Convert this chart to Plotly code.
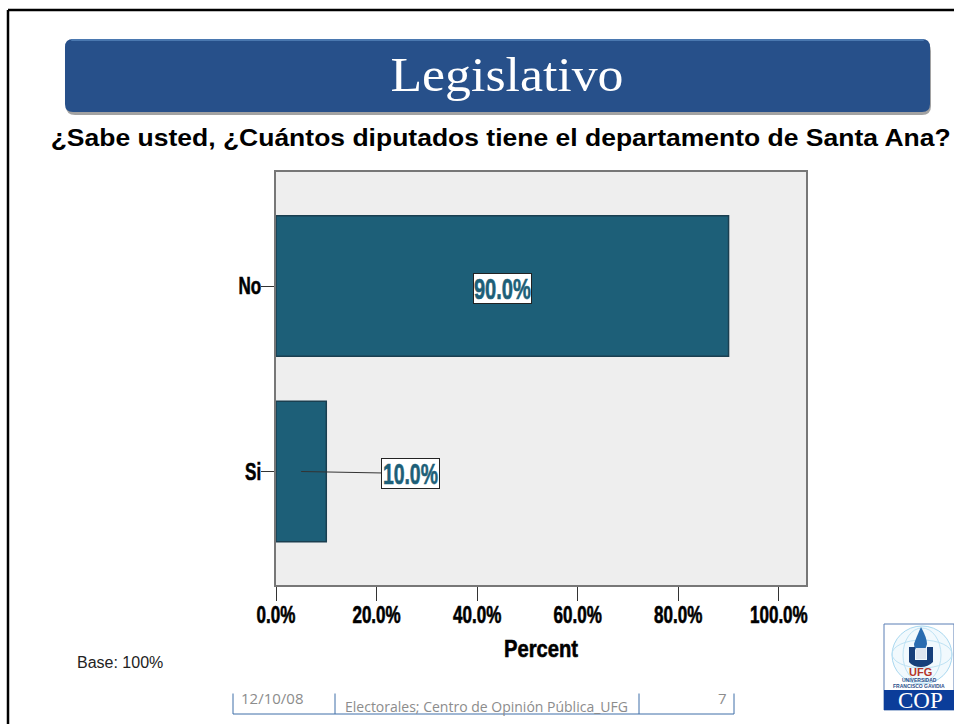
import json
import plotly.graph_objects as go

# values
categories = ["Si", "No"]
percent = [10.0, 90.0]
bar_labels = ["10.0%", "90.0%"]
x_ticks = [0, 20, 40, 60, 80, 100]
x_tick_labels = ["0.0%", "20.0%", "40.0%", "60.0%", "80.0%", "100.0%"]

W, H = 954, 724
BAR = "#1d5f78"
SANS = "Liberation Sans"
FOOT = "#8c8c8c"
FOOT_LINE = "#3f6ea8"


def px(x):
    return x / W


def py(y):
    return 1 - y / H


def rounded(x0, y0, x1, y1, r):
    return (f"M {x0+r} {y0} L {x1-r} {y0} Q {x1} {y0} {x1} {y0+r} L {x1} {y1-r} Q {x1} {y1} {x1-r} {y1} "
            f"L {x0+r} {y1} Q {x0} {y1} {x0} {y1-r} L {x0} {y0+r} Q {x0} {y0} {x0+r} {y0} Z")


def box(x0, y0, x1, y1, fill, line=None, width=0):
    return dict(type="rect", xref="paper", yref="paper", x0=px(x0), x1=px(x1), y0=py(y0), y1=py(y1),
                fillcolor=fill, line=dict(color=line, width=width), layer="above")


def pline(x0, y0, x1, y1, color, width=1):
    return dict(type="line", xref="paper", yref="paper", x0=px(x0), x1=px(x1), y0=py(y0), y1=py(y1),
                line=dict(color=color, width=width), layer="above")


def ptext(x, y, text, size, color, family=SANS, weight="normal"):
    return dict(xref="paper", yref="paper", x=px(x), y=py(y), text=text, showarrow=False,
                xanchor="center", yanchor="middle",
                font=dict(size=size, color=color, family=family, weight=weight))


def path_paper(d):
    # paths use pixel numbers, convert them to paper fractions
    res, is_x = [], True
    for tok in d.split():
        if tok.isalpha():
            res.append(tok)
            is_x = True
        else:
            res.append(f"{px(float(tok)):.5f}" if is_x else f"{py(float(tok)):.5f}")
            is_x = not is_x
    return " ".join(res)


def ppath(d, fill, line=None, width=0, opacity=1):
    return dict(type="path", xref="paper", yref="paper", path=path_paper(d), fillcolor=fill,
                line=dict(color=line, width=width), opacity=opacity, layer="above")


def circle(x0, y0, x1, y1, line, width=1, fill="rgba(0,0,0,0)"):
    return dict(type="circle", xref="paper", yref="paper", x0=px(x0), x1=px(x1), y0=py(y0), y1=py(y1),
                fillcolor=fill, line=dict(color=line, width=width), layer="above")


fig = go.Figure(go.Bar(
    y=categories, x=percent, orientation="h", width=0.757,
    marker=dict(color=BAR, line=dict(color="#1a3f50", width=1.5)),
    hoverinfo="skip",
))

shapes = [
    # slide frame
    pline(8, 10, 954, 10, "#000000", 2.5),
    pline(8, 10, 8, 724, "#000000", 2.5),
    # header band
    ppath(rounded(66, 42, 931, 115, 9), "#555555", opacity=0.55),
    ppath(rounded(65, 39, 930, 112, 8), "#27508a"),
    ppath(rounded(71, 39, 924, 41, 1), "#4a78b0"),
    # footer table
    pline(233, 692, 233, 714, FOOT_LINE),
    pline(335, 692, 335, 714, FOOT_LINE),
    pline(639, 692, 639, 714, FOOT_LINE),
    pline(734, 692, 734, 714, FOOT_LINE),
    pline(233, 714, 734, 714, FOOT_LINE),
    # logo
    box(884, 624, 954, 710, "#ffffff", "#5b7fb5", 1),
    circle(892, 626, 952, 684, "#a9d8f0", 1, "#f1f9fd"),
    circle(903, 628, 941, 682, "#bde2f4", 1),
    circle(892, 640, 952, 668, "#bde2f4", 1),
    ppath("M 921 627 Q 927 638 927 644 Q 925 652 921 652 Q 914 651 914 644 Q 916 638 921 627 Z", "#2a6cb0"),
    ppath("M 909 647 L 915 647 L 915 660 L 927 660 L 927 647 L 933 647 L 933 662 Q 928 667 921 667 Q 913 667 909 662 Z", "#173f7a"),
    box(916, 648, 926, 659, "#dfe6ef"),
    box(884, 690, 954, 710, "#0b3d9a"),
]

annotations = [
    ptext(507, 75, "Legislativo", 48, "#ffffff", "Liberation Serif"),
    ptext(500, 137, "¿Sabe usted, ¿Cuántos diputados tiene el departamento de Santa Ana?", 24, "#000000", SANS, "bold"),
    ptext(120, 662, "Base: 100%", 16, "#222222"),
    ptext(541, 648, "Percent", 24, "#000000", SANS, "bold"),
    # footer
    ptext(272, 698, "12/10/08", 15, FOOT, "Open Sans"),
    ptext(486, 706, "Electorales; Centro de Opinión Pública_UFG", 14, FOOT, "Open Sans"),
    ptext(722, 698, "7", 15, FOOT, "Open Sans"),
    # white strip that cuts the top of the footer row
    dict(xref="paper", yref="paper", x=px(484), y=py(685), text=" ", showarrow=False, width=520, height=13,
         xanchor="center", yanchor="middle", bgcolor="#ffffff"),
    # logo text
    ptext(920, 672, "UFG", 11, "#b5352a", SANS, "bold"),
    ptext(919, 680, "UNIVERSIDAD", 5, "#2b4f8a", SANS, "bold"),
    ptext(919, 686, "FRANCISCO GAVIDIA", 5, "#2b4f8a", SANS, "bold"),
    ptext(920, 700, "COP", 23, "#ffffff", "Liberation Serif"),
]

# value labels, the small bar gets a leader line
for cat, val, lab in zip(categories, percent, bar_labels):
    ann = dict(
        x=val / 2, y=cat, text=lab, bgcolor="#ffffff", bordercolor="#222222", borderwidth=1, borderpad=0,
        width=57, height=29, font=dict(size=29, color=BAR, family=SANS, weight="bold"),
    )
    if val > 50:
        ann.update(showarrow=False, yshift=-2)
    else:
        ann.update(showarrow=True, arrowhead=0, arrowwidth=1, arrowcolor="#333333", ax=109, ay=2, standoff=0)
    annotations.append(ann)

tick_font = dict(size=24, family=SANS, color="#000000", weight="bold")

fig.update_layout(
    width=W, height=H, margin=dict(l=0, r=0, t=0, b=0), autosize=False,
    paper_bgcolor="#ffffff", plot_bgcolor="#eeeeee", showlegend=False,
    shapes=shapes, annotations=annotations,
    xaxis=dict(
        domain=[px(276), px(806)], range=[0, 105.4], tickvals=x_ticks, ticktext=x_tick_labels,
        ticks="outside", ticklen=14, tickcolor="#333333", showgrid=False, zeroline=False, automargin=False,
        showline=True, linecolor="#777777", linewidth=2, mirror=True, tickfont=tick_font,
        ticklabelstandoff=-7,
    ),
    yaxis=dict(
        domain=[py(585), py(172)], type="category", categoryorder="array", categoryarray=categories,
        range=[-0.612, 1.615], ticks="outside", ticklen=13, tickcolor="#333333", showgrid=False, automargin=False,
        zeroline=False, showline=True, linecolor="#777777", linewidth=2, mirror=True, tickfont=tick_font,
        ticklabelstandoff=-5,
    ),
)

# no narrow font is installed, so squeeze the heavy labels to the reference's text widths
text_widths = {
    "Legislativo": 233,
    "¿Sabe usted, ¿Cuántos diputados tiene el departamento de Santa Ana?": 900,
    "Percent": 74,
    "10.0%": 55,
    "90.0%": 57,
}
heavy = ["Percent", "10.0%", "90.0%"]
squeeze_js = """
document.body.style.margin = '0';
document.body.style.overflow = 'hidden';
var widths = %s, heavy = %s;
function thicken(t) { t.style.stroke = t.style.fill; t.style.strokeWidth = '0.6px'; }
document.querySelectorAll('.annotation-text').forEach(function (t) {
    var w = widths[t.textContent];
    if (w) { t.setAttribute('lengthAdjust', 'spacingAndGlyphs'); t.setAttribute('textLength', w); }
    if (heavy.indexOf(t.textContent) >= 0) { thicken(t); }
});
document.querySelectorAll('.xtick text, .ytick text').forEach(function (t) {
    t.setAttribute('lengthAdjust', 'spacingAndGlyphs');
    t.setAttribute('textLength', t.getComputedTextLength() * 0.71);
    thicken(t);
});
""" % (json.dumps(text_widths, ensure_ascii=False), json.dumps(heavy))

fig.write_html("out.html", config=dict(displayModeBar=False), post_script=squeeze_js)
